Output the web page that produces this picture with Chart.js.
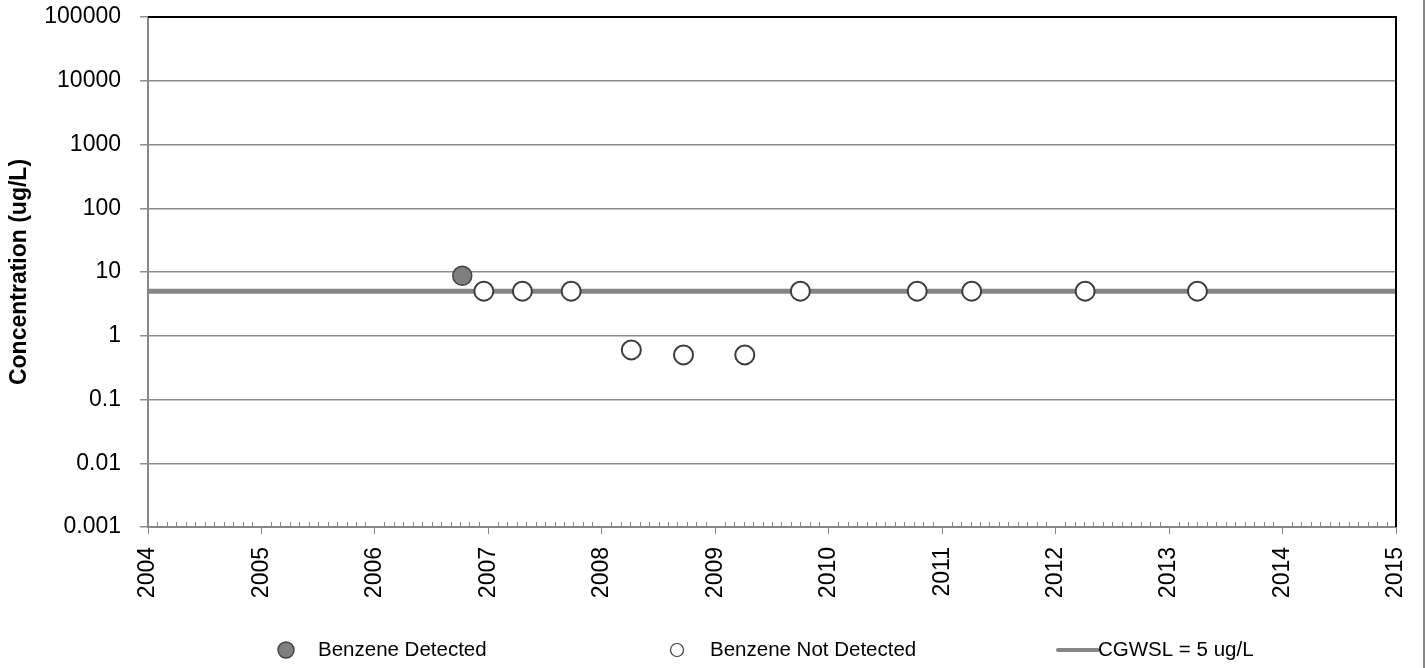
<!DOCTYPE html>
<html>
<head>
<meta charset="utf-8">
<script src="https://cdn.jsdelivr.net/npm/chart.js@4.4.1/dist/chart.umd.min.js"></script>
<style>
  html, body { margin: 0; padding: 0; background: #fff; }
  #wrap { width: 1426px; height: 668px; position: relative; }
</style>
</head>
<body>
<div id="wrap"><canvas id="c" width="1426" height="668"></canvas></div>
<script>
// Sampling dates (decimal years) and benzene concentrations (ug/L)
const detectedDates = [2006.77];
const detectedValues = [8.7];
const notDetectedDates = [2006.96, 2007.30, 2007.73, 2008.26, 2008.72, 2009.26, 2009.75, 2010.78, 2011.26, 2012.26, 2013.25];
const notDetectedValues = [5, 5, 5, 0.6, 0.5, 0.5, 5, 5, 5, 5, 5];
// Groundwater standard
const cgwslValue = 5;
const cgwslRange = [2004, 2015];
// Axis ticks
const yearTicks = [2004, 2005, 2006, 2007, 2008, 2009, 2010, 2011, 2012, 2013, 2014, 2015];
const concTicks = [0.001, 0.01, 0.1, 1, 10, 100, 1000, 10000, 100000];

const FONT = "'Liberation Sans', Arial, sans-serif";
const AXIS_GRAY = '#888888';

const toPoints = (xs, ys) => xs.map((x, i) => ({ x, y: ys[i] }));

// Monthly minor ticks on the date axis, outer frame and the legend row
const decor = {
  id: 'decor',
  afterDraw(chart) {
    const { ctx, chartArea: a, scales: { x } } = chart;
    ctx.save();
    // minor ticks
    ctx.strokeStyle = AXIS_GRAY;
    ctx.lineWidth = 1;
    ctx.beginPath();
    for (let m = 0; m <= (yearTicks.length - 1) * 12; m++) {
      if (m % 12 === 0) continue;
      const px = Math.round(x.getPixelForValue(yearTicks[0] + m / 12)) + 0.5;
      ctx.moveTo(px, a.bottom);
      ctx.lineTo(px, a.bottom - 5);
    }
    ctx.stroke();
    // top and right border of plot area
    ctx.strokeStyle = '#000';
    ctx.lineWidth = 2;
    ctx.beginPath();
    ctx.moveTo(a.left, a.top);
    ctx.lineTo(a.right, a.top);
    ctx.lineTo(a.right, a.bottom);
    ctx.stroke();
    // outer frame edge
    ctx.strokeStyle = AXIS_GRAY;
    ctx.lineWidth = 2;
    ctx.beginPath();
    ctx.moveTo(1424, 0);
    ctx.lineTo(1424, chart.height);
    ctx.stroke();

    // legend
    const ly = 650;
    ctx.font = '20.5px ' + FONT;
    ctx.fillStyle = '#000';
    ctx.textBaseline = 'middle';
    ctx.textAlign = 'left';
    const ds = chart.data.datasets;
    // detected
    ctx.beginPath();
    ctx.arc(286, ly, 8, 0, Math.PI * 2);
    ctx.fillStyle = ds[0].backgroundColor;
    ctx.fill();
    ctx.lineWidth = 1.5;
    ctx.strokeStyle = ds[0].borderColor;
    ctx.stroke();
    ctx.fillStyle = '#000';
    ctx.fillText(ds[0].label, 318, ly);
    // not detected
    ctx.beginPath();
    ctx.arc(677, ly, 6.5, 0, Math.PI * 2);
    ctx.fillStyle = '#fff';
    ctx.fill();
    ctx.lineWidth = 1.2;
    ctx.strokeStyle = ds[1].borderColor;
    ctx.stroke();
    ctx.fillStyle = '#000';
    ctx.fillText(ds[1].label, 710, ly);
    // standard line
    ctx.beginPath();
    ctx.moveTo(1058, ly);
    ctx.lineTo(1098, ly);
    ctx.lineWidth = 4;
    ctx.lineCap = 'round';
    ctx.strokeStyle = ds[2].borderColor;
    ctx.stroke();
    ctx.fillText(ds[2].label, 1098, ly);
    ctx.restore();
  }
};

new Chart(document.getElementById('c'), {
  type: 'scatter',
  data: {
    datasets: [
      {
        label: 'Benzene Detected',
        data: toPoints(detectedDates, detectedValues),
        pointRadius: 9.5,
        pointHoverRadius: 9.5,
        backgroundColor: '#7f7f7f',
        borderColor: '#444444',
        borderWidth: 1.5,
        order: 0
      },
      {
        label: 'Benzene Not Detected',
        data: toPoints(notDetectedDates, notDetectedValues),
        pointRadius: 9.5,
        pointHoverRadius: 9.5,
        backgroundColor: '#ffffff',
        borderColor: '#3c3c3c',
        borderWidth: 2,
        order: 0
      },
      {
        type: 'line',
        label: 'CGWSL = 5 ug/L',
        data: toPoints(cgwslRange, [cgwslValue, cgwslValue]),
        borderColor: '#858585',
        borderWidth: 5,
        pointRadius: 0,
        fill: false,
        order: 1
      }
    ]
  },
  options: {
    responsive: false,
    animation: false,
    layout: { padding: { top: 17, right: 30, left: 0, bottom: 0 } },
    plugins: { legend: { display: false }, tooltip: { enabled: false } },
    scales: {
      x: {
        type: 'linear',
        min: yearTicks[0],
        max: yearTicks[yearTicks.length - 1],
        afterBuildTicks(s) { s.ticks = yearTicks.map(v => ({ value: v })); },
        afterFit(s) { s.height = 141; s.paddingLeft = 0; s.paddingRight = 0; },
        ticks: {
          minRotation: 90, maxRotation: 90, autoSkip: false,
          color: '#000', font: { family: FONT, size: 23 }, padding: 13,
          callback: v => String(v)
        },
        grid: { display: true, drawOnChartArea: false, drawTicks: true, tickLength: 7, color: AXIS_GRAY, lineWidth: 1 },
        border: { display: true, color: AXIS_GRAY, width: 2 }
      },
      y: {
        type: 'logarithmic',
        min: concTicks[0],
        max: concTicks[concTicks.length - 1],
        afterBuildTicks(s) { s.ticks = concTicks.map(v => ({ value: v })); },
        afterFit(s) { s.width = 148; s.paddingTop = 0; s.paddingBottom = 0; },
        ticks: {
          color: '#000', font: { family: FONT, size: 23 }, padding: 19,
          callback: v => String(v)
        },
        grid: { color: '#8c8c8c', lineWidth: 1.5, tickLength: 8, drawTicks: true },
        border: { display: true, color: AXIS_GRAY, width: 2 },
        title: {
          display: true, text: 'Concentration (ug/L)', color: '#000',
          font: { family: FONT, size: 23, weight: 'bold' }, padding: { top: 6, bottom: 2 }
        }
      }
    }
  },
  plugins: [decor]
});
</script>
</body>
</html>
